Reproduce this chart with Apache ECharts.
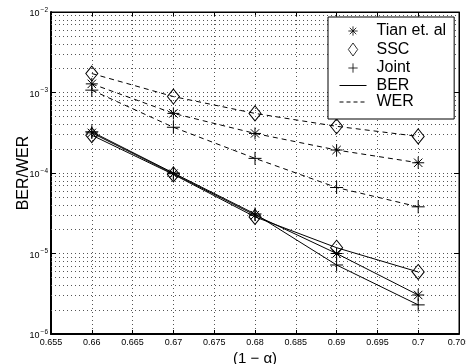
<!DOCTYPE html>
<html>
<head>
<meta charset="utf-8">
<script src="https://cdn.jsdelivr.net/npm/echarts@6/dist/echarts.min.js"></script>
<style>
  html, body { margin: 0; padding: 0; background: #fff; }
  #chart { width: 466px; height: 364px; }
</style>
</head>
<body>
<div id="chart"></div>
<script>
// data
const xVals = [0.66, 0.67, 0.68, 0.69, 0.70]
const tianBER = [3.15e-4, 9.8e-5, 3.0e-5, 1.0e-5, 3.05e-6]
const sscBER = [2.95e-4, 9.6e-5, 2.85e-5, 1.18e-5, 5.9e-6]
const jointBER = [3.25e-4, 1.0e-4, 3.1e-5, 7.2e-6, 2.3e-6]
const tianWER = [1.28e-3, 5.5e-4, 3.1e-4, 1.93e-4, 1.34e-4]
const sscWER = [1.72e-3, 8.9e-4, 5.5e-4, 3.8e-4, 2.85e-4]
const jointWER = [1.07e-3, 3.7e-4, 1.52e-4, 6.6e-5, 3.8e-5]
const legendNames = ['Tian et. al', 'SSC', 'Joint', 'BER', 'WER']

const xMin = 0.655
const xMax = 0.705

const FONT = '"Liberation Sans", Arial, sans-serif'

// marker shapes
const starPath = 'path://M5,0L5,10M0,5L10,5M1.5,1.5L8.5,8.5M1.5,8.5L8.5,1.5'
const plusPath = 'path://M0,5L10,5M5,0L5,10'
const diamondPath = 'path://M5,0L10,7L5,14L0,7Z'
// legend versions with some empty room round them
const starIcon = 'path://M-2,-2M12,12M5,0L5,10M0,5L10,5M1.5,1.5L8.5,8.5M1.5,8.5L8.5,1.5'
const plusIcon = 'path://M-2,-2M12,12M0,5L10,5M5,0L5,10'
const lineIcon = 'path://M0,0M0,5L27,5M27,10'

const hollow = { color: 'none', borderColor: '#000', borderWidth: 1 }
const gridDots = { color: '#555', width: 1, type: [1, 3] }

// minor grid lines 2..9 x 10^k
const minorLines = []
for (let k = -6; k < -2; k++) {
  for (let m = 2; m <= 9; m++) {
    const v = m * Math.pow(10, k)
    minorLines.push([{ coord: [xMin, v] }, { coord: [xMax, v] }])
  }
}

const pairs = ys => xVals.map((x, i) => [x, ys[i]])

const makeSeries = (name, ys, symbol, size, dashed) => ({
  name: name,
  type: 'line',
  data: pairs(ys),
  symbol: symbol,
  symbolSize: size,
  showSymbol: true,
  itemStyle: hollow,
  lineStyle: { color: '#000', width: 1, type: dashed ? [5, 4] : 'solid' },
  emphasis: { disabled: true },
  animation: false,
  z: 3
})

const chart = echarts.init(document.getElementById('chart'))

const supLabel = v => {
  const e = Math.round(Math.log10(v))
  return '{b|10}{s|' + String(e).replace('-', '\u2212') + '}'
}

const option = {
  backgroundColor: '#fff',
  animation: false,
  grid: {
    left: 51, right: 7, top: 12, bottom: 30,
    outerBoundsMode: 'none',
    containLabel: false,
    show: true, borderColor: '#000', borderWidth: 1
  },
  legend: {
    data: [
      { name: 'Tian et. al', icon: starIcon, itemStyle: hollow },
      { name: 'SSC', icon: diamondPath, itemStyle: hollow },
      { name: 'Joint', icon: plusIcon, itemStyle: hollow },
      { name: 'BER', icon: lineIcon, itemStyle: hollow },
      { name: 'WER', icon: lineIcon, itemStyle: { color: 'none', borderColor: '#000', borderWidth: 1, borderType: [4, 3] } }
    ],
    orient: 'vertical',
    left: 328,
    top: 17,
    padding: [5, 8, 9, 9],
    itemWidth: 27,
    itemHeight: 13,
    itemGap: 0.5,
    backgroundColor: '#fff',
    borderColor: '#000',
    borderWidth: 1,
    borderRadius: 0,
    selectedMode: false,
    textStyle: { fontFamily: FONT, fontSize: 16, lineHeight: 16, color: '#000', padding: [0, 0, 0, 5] }
  },
  xAxis: [
    {
      type: 'value',
      min: xMin,
      max: xMax,
      interval: 0.005,
      name: '(1 \u2212 \u03b1)',
      nameLocation: 'middle',
      nameGap: 17,
      nameMoveOverlap: false,
      nameTextStyle: { fontFamily: FONT, fontSize: 15, color: '#000' },
      axisLine: { show: true, lineStyle: { color: '#000', width: 2 } },
      axisTick: { show: true, inside: true, length: 4, lineStyle: { color: '#000' } },
      axisLabel: {
        fontFamily: FONT, fontSize: 9, color: '#000', margin: 4,
        showMinLabel: true, showMaxLabel: true,
        formatter: v => String(+v.toFixed(3))
      },
      splitLine: { show: true, lineStyle: gridDots }
    },
    {
      type: 'value',
      position: 'top',
      min: xMin,
      max: xMax,
      interval: 0.005,
      axisLine: { show: true, lineStyle: { color: '#000', width: 1 } },
      axisTick: { show: true, inside: true, length: 4, lineStyle: { color: '#000' } },
      axisLabel: { show: false },
      splitLine: { show: false }
    }
  ],
  yAxis: [
    {
      type: 'log',
      logBase: 10,
      min: 1e-6,
      max: 1e-2,
      splitNumber: 4,
      name: 'BER/WER',
      nameLocation: 'middle',
      nameGap: 19,
      nameMoveOverlap: false,
      nameRotate: 90,
      nameTextStyle: { fontFamily: FONT, fontSize: 16, color: '#000' },
      axisLine: { show: true, lineStyle: { color: '#000', width: 2 } },
      axisTick: { show: true, inside: true, length: 5, lineStyle: { color: '#000' } },
      axisLabel: {
        margin: 3,
        color: '#000',
        formatter: supLabel,
        rich: {
          b: { fontFamily: FONT, fontSize: 9, color: '#000', padding: [4, 0, 0, 0] },
          s: { fontFamily: FONT, fontSize: 6.5, color: '#000', padding: [0, 0, 4, 1] }
        }
      },
      splitLine: { show: true, lineStyle: gridDots }
    },
    {
      type: 'log',
      logBase: 10,
      min: 1e-6,
      max: 1e-2,
      splitNumber: 4,
      position: 'right',
      axisLine: { show: true, lineStyle: { color: '#000', width: 1 } },
      axisTick: { show: true, inside: true, length: 5, lineStyle: { color: '#000' } },
      axisLabel: { show: false },
      splitLine: { show: false }
    }
  ],
  series: [
    // the plotted curves
    Object.assign(makeSeries('tianBER', tianBER, starPath, 12, false), {
      markLine: {
        silent: true,
        symbol: ['none', 'none'],
        label: { show: false },
        lineStyle: gridDots,
        animation: false,
        z: 1,
        data: minorLines
      }
    }),
    makeSeries('sscBER', sscBER, diamondPath, [12, 15], false),
    makeSeries('jointBER', jointBER, plusPath, 13, false),
    makeSeries('tianWER', tianWER, starPath, 12, true),
    makeSeries('sscWER', sscWER, diamondPath, [12, 15], true),
    makeSeries('jointWER', jointWER, plusPath, 13, true),
    // legend-only entries
    { name: legendNames[0], type: 'scatter', data: [], symbol: starPath, itemStyle: hollow },
    { name: legendNames[1], type: 'scatter', data: [], symbol: diamondPath, itemStyle: hollow },
    { name: legendNames[2], type: 'scatter', data: [], symbol: plusPath, itemStyle: hollow },
    { name: legendNames[3], type: 'line', data: [], symbol: 'none', lineStyle: { color: '#000', width: 1 } },
    { name: legendNames[4], type: 'line', data: [], symbol: 'none', lineStyle: { color: '#000', width: 1, type: [5, 4] } }
  ]
}

chart.setOption(option)
</script>
</body>
</html>
